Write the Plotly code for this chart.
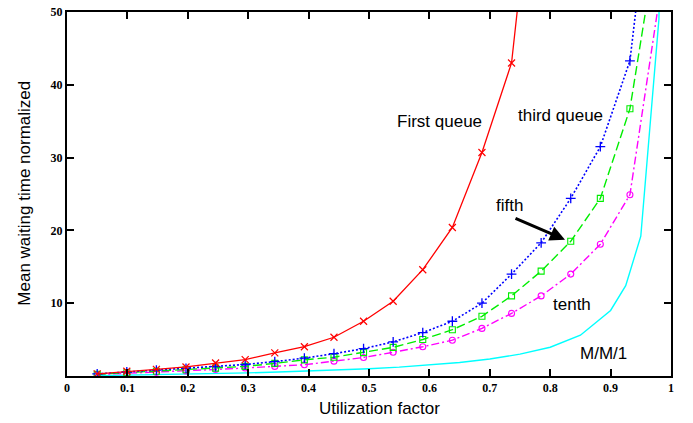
import plotly.graph_objects as go

# ---- data ----
x_queue = [0.05, 0.099, 0.148, 0.197, 0.246, 0.295, 0.344, 0.393, 0.442, 0.491,
           0.540, 0.589, 0.638, 0.687, 0.736, 0.785, 0.834, 0.883, 0.932, 0.981]

first_queue = [0.3, 0.65, 0.9, 1.24, 1.78, 2.25, 3.17, 4.02, 5.32, 7.52,
               10.27, 14.6, 20.4, 30.7, 43.0, 80.0, 140.0, 250.0, 450.0, 900.0]
third_queue = [0.3, 0.55, 0.8, 1.05, 1.3, 1.58, 1.98, 2.45, 3.07, 3.75,
               4.69, 5.96, 7.52, 10.0, 14.0, 18.3, 24.4, 31.5, 43.3, 78.0]
fifth_queue = [0.25, 0.45, 0.65, 0.85, 1.08, 1.32, 1.73, 2.22, 2.58, 3.21,
               3.93, 5.01, 6.36, 8.2, 11.0, 14.4, 18.5, 24.4, 36.7, 62.0]
tenth_queue = [0.2, 0.35, 0.5, 0.7, 0.9, 1.1, 1.32, 1.55, 2.04, 2.54,
               3.26, 4.02, 4.92, 6.54, 8.6, 11.0, 14.0, 18.1, 24.9, 52.0]

x_mm1 = [0.05, 0.1, 0.15, 0.2, 0.25, 0.3, 0.35, 0.4, 0.45, 0.5, 0.55, 0.6,
         0.65, 0.7, 0.75, 0.8, 0.85, 0.9, 0.925, 0.95, 0.98, 0.99]
mm1 = [0.05, 0.11, 0.18, 0.25, 0.33, 0.43, 0.54, 0.67, 0.82, 1.0, 1.22, 1.5,
       1.86, 2.33, 3.0, 3.95, 5.6, 9.0, 12.4, 19.2, 49.0, 99.0]

x_ticks = [0, 0.1, 0.2, 0.3, 0.4, 0.5, 0.6, 0.7, 0.8, 0.9, 1]
x_tick_text = ["0", "0.1", "0.2", "0.3", "0.4", "0.5", "0.6", "0.7", "0.8", "0.9", "1"]
y_ticks = [10, 20, 30, 40, 50]
y_tick_text = ["10", "20", "30", "40", "50"]

fig = go.Figure()

fig.add_trace(go.Scatter(x=x_mm1, y=mm1, mode="lines",
                         line=dict(color="#00ffff", width=1.4), name="M/M/1"))
fig.add_trace(go.Scatter(x=x_queue, y=tenth_queue, mode="lines+markers",
                         line=dict(color="#ff00ff", width=1.4, dash="8px,3px,2px,3px"),
                         marker=dict(symbol="circle-open", size=6, color="#ff00ff",
                                     line=dict(width=1.1, color="#ff00ff")),
                         name="tenth"))
fig.add_trace(go.Scatter(x=x_queue, y=fifth_queue, mode="lines+markers",
                         line=dict(color="#00ee00", width=1.4, dash="9px,4px"),
                         marker=dict(symbol="square-open", size=6, color="#00ee00",
                                     line=dict(width=1.1, color="#00ee00")),
                         name="fifth"))
fig.add_trace(go.Scatter(x=x_queue, y=third_queue, mode="lines+markers",
                         line=dict(color="#0000ff", width=1.6, dash="2px,2px"),
                         marker=dict(symbol="cross-thin-open", size=7, color="#0000ff",
                                     line=dict(width=1.3, color="#0000ff")),
                         name="third"))
fig.add_trace(go.Scatter(x=x_queue, y=first_queue, mode="lines+markers",
                         line=dict(color="#ff0000", width=1.3),
                         marker=dict(symbol="x-thin-open", size=7, color="#ff0000",
                                     line=dict(width=1.2, color="#ff0000")),
                         name="first"))

sans = "Liberation Sans, Arial, sans-serif"
ann_font = dict(family=sans, size=17, color="black")

annotations = [
    dict(x=0.616, y=34.9, text="First queue"),
    dict(x=0.817, y=35.85, text="third queue"),
    dict(x=0.732, y=23.45, text="fifth"),
    dict(x=0.8356, y=9.84, text="tenth"),
    dict(x=0.889, y=3.1, text="M/M/1"),
]
for a in annotations:
    a.update(xref="x", yref="y", showarrow=False, font=ann_font,
             xanchor="center", yanchor="middle")

annotations.append(dict(x=0.8245, y=18.73, xref="x", yref="y", ax=-51, ay=-22,
                        showarrow=True, arrowhead=2, arrowsize=1, arrowwidth=3,
                        arrowcolor="black", text=""))
annotations.append(dict(x=-0.0695, y=0.501, xref="paper", yref="paper",
                        text="Mean waiting time normalized", textangle=-90,
                        showarrow=False, font=ann_font, xanchor="center", yanchor="middle"))
annotations.append(dict(x=0.518, y=-0.089, xref="paper", yref="paper",
                        text="Utilization factor", showarrow=False, font=ann_font,
                        xanchor="center", yanchor="middle"))

tickfont = dict(family="Liberation Serif, Times New Roman, serif", size=12,
                color="black", weight="bold")

fig.update_layout(
    width=693, height=423,
    margin=dict(l=67, r=22, t=5, b=47),
    paper_bgcolor="white", plot_bgcolor="white",
    showlegend=False,
    annotations=annotations,
    xaxis=dict(range=[0, 1], tickvals=x_ticks, ticktext=x_tick_text,
               ticks="inside", ticklen=7, tickwidth=1.5, tickcolor="black",
               showline=True, linecolor="black", linewidth=2, mirror="ticks",
               showgrid=False, zeroline=False, tickfont=tickfont),
    yaxis=dict(range=[0, 50], tickvals=y_ticks, ticktext=y_tick_text,
               ticks="inside", ticklen=7, tickwidth=1.5, tickcolor="black",
               showline=True, linecolor="black", linewidth=2, mirror="ticks",
               showgrid=False, zeroline=False, tickfont=tickfont),
)

fig.write_html("out.html")
